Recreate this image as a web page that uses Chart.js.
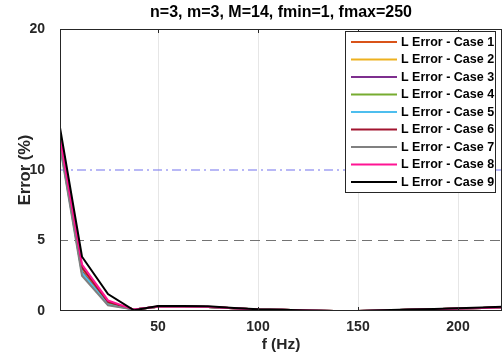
<!DOCTYPE html>
<html>
<head>
<meta charset="utf-8">
<script src="https://cdn.jsdelivr.net/npm/chart.js@4/dist/chart.umd.min.js"></script>
<style>
  html, body { margin: 0; padding: 0; background: #fff; }
  #wrap { width: 503px; height: 360px; }
</style>
</head>
<body>
<div id="wrap"><canvas id="chart" width="503" height="360"></canvas></div>
<script>
const freqs = [1, 12, 25, 38, 50, 62, 75, 88, 100, 112, 125, 138, 150, 162, 175, 188, 200, 212, 222];

const caseLabels = [
  "L Error - Case 1", "L Error - Case 2", "L Error - Case 3",
  "L Error - Case 4", "L Error - Case 5", "L Error - Case 6",
  "L Error - Case 7", "L Error - Case 8", "L Error - Case 9",
];
const caseColors = [
  "#D95319", "#EDB120", "#7E2F8E", "#77AC30", "#4DBEEE",
  "#A2142F", "#808080", "#FF1493", "#000000",
];

const case1 = [12.1, 3.0, 0.6, 0.1, 0.3, 0.3, 0.28, 0.2, 0.1, 0.08, 0.03, 0.0, 0.0, 0.04, 0.08, 0.12, 0.18, 0.22, 0.26];
const case2 = [12.0, 2.9, 0.55, 0.1, 0.3, 0.3, 0.28, 0.2, 0.1, 0.08, 0.03, 0.0, 0.0, 0.04, 0.08, 0.12, 0.18, 0.22, 0.26];
const case3 = [12.0, 2.8, 0.5, 0.1, 0.3, 0.3, 0.28, 0.2, 0.1, 0.08, 0.03, 0.0, 0.0, 0.04, 0.08, 0.12, 0.18, 0.22, 0.26];
const case4 = [11.9, 2.7, 0.5, 0.1, 0.3, 0.3, 0.28, 0.2, 0.1, 0.08, 0.03, 0.0, 0.0, 0.04, 0.08, 0.12, 0.18, 0.22, 0.26];
const case5 = [11.8, 2.7, 0.45, 0.1, 0.3, 0.3, 0.28, 0.2, 0.1, 0.08, 0.03, 0.0, 0.0, 0.04, 0.08, 0.12, 0.18, 0.22, 0.26];
const case6 = [12.2, 3.1, 0.65, 0.1, 0.3, 0.3, 0.28, 0.2, 0.1, 0.08, 0.03, 0.0, 0.0, 0.04, 0.08, 0.12, 0.18, 0.22, 0.26];
const case7 = [11.7, 2.5, 0.4, 0.1, 0.3, 0.3, 0.28, 0.2, 0.1, 0.08, 0.03, 0.0, 0.0, 0.04, 0.08, 0.12, 0.18, 0.22, 0.26];
const case8 = [12.3, 3.3, 0.75, 0.1, 0.32, 0.32, 0.3, 0.2, 0.1, 0.08, 0.03, 0.0, 0.0, 0.04, 0.08, 0.12, 0.18, 0.22, 0.26];
const case9 = [13.0, 3.85, 1.2, 0.05, 0.35, 0.35, 0.33, 0.22, 0.12, 0.08, 0.03, 0.0, 0.0, 0.05, 0.1, 0.14, 0.2, 0.25, 0.3];
const caseValues = [case1, case2, case3, case4, case5, case6, case7, case8, case9];

const yTickValues = [0, 5, 10, 20];
const xTickValues = [50, 100, 150, 200];
const refLevels = [5, 10];

const titleText = "n=3, m=3, M=14, fmin=1, fmax=250";
const FONT = "'Liberation Sans', Arial, Helvetica, sans-serif";

// later cases are drawn on top, like in the original plot
const datasets = caseValues.map((vals, i) => ({
  label: caseLabels[i],
  data: freqs.map((f, j) => ({ x: f, y: vals[j] })),
  borderColor: caseColors[i],
  backgroundColor: caseColors[i],
  borderWidth: 2,
  pointRadius: 0,
  tension: 0,
  order: caseValues.length - i,
}));

// reference lines at 5 % and 10 %
datasets.push({
  label: "ref5",
  data: [{ x: 0, y: refLevels[0] }, { x: 250, y: refLevels[0] }],
  borderColor: "#737373",
  borderWidth: 1.2,
  borderDash: [10, 6],
  pointRadius: 0,
  order: 50,
});
datasets.push({
  label: "ref10",
  data: [{ x: 0, y: refLevels[1] }, { x: 250, y: refLevels[1] }],
  borderColor: "#7373EE",
  borderWidth: 1.2,
  borderDash: [9, 4, 2, 4],
  pointRadius: 0,
  order: 50,
});

const boxAndLegend = {
  id: "boxAndLegend",
  afterDraw(chart) {
    const { ctx, chartArea: a } = chart;
    ctx.save();
    // axes box
    ctx.strokeStyle = "#262626";
    ctx.lineWidth = 1;
    ctx.strokeRect(a.left + 0.5, a.top + 0.5, a.right - a.left - 1, a.bottom - a.top - 1);
    // small inward ticks on top and bottom edges
    const xs = chart.scales.x;
    xTickValues.forEach((v) => {
      const px = Math.round(xs.getPixelForValue(v)) + 0.5;
      ctx.beginPath();
      ctx.moveTo(px, a.top);
      ctx.lineTo(px, a.top + 4);
      ctx.moveTo(px, a.bottom);
      ctx.lineTo(px, a.bottom - 4);
      ctx.stroke();
    });

    // title
    ctx.fillStyle = "#000";
    ctx.font = "bold 16px " + FONT;
    ctx.textAlign = "center";
    ctx.textBaseline = "middle";
    ctx.fillText(titleText, (a.left + a.right) / 2, 13);

    // legend
    const lx = 345.5, ly = 31.5, lw = 150, lh = 161;
    ctx.fillStyle = "#fff";
    ctx.fillRect(lx, ly, lw, lh);
    ctx.strokeStyle = "#262626";
    ctx.lineWidth = 1;
    ctx.strokeRect(lx, ly, lw, lh);
    ctx.font = "bold 12.5px " + FONT;
    ctx.textAlign = "left";
    caseLabels.forEach((lab, i) => {
      const y = 42 + i * 17.5;
      ctx.strokeStyle = caseColors[i];
      ctx.lineWidth = 2;
      ctx.beginPath();
      ctx.moveTo(351, y);
      ctx.lineTo(397, y);
      ctx.stroke();
      ctx.fillStyle = "#000";
      ctx.fillText(lab, 401, y + 0.5);
    });
    ctx.restore();
  },
};

new Chart(document.getElementById("chart"), {
  type: "line",
  data: { datasets },
  options: {
    responsive: false,
    animation: false,
    layout: { padding: { left: 0, right: 1, top: 29, bottom: 0 } },
    plugins: {
      legend: { display: false },
      title: { display: false },
      tooltip: { enabled: false },
    },
    scales: {
      x: {
        type: "linear",
        min: 1,
        max: 222,
        afterBuildTicks(scale) {
          scale.ticks = xTickValues.map((v) => ({ value: v }));
        },
        afterFit(scale) {
          scale.height = 49;
        },
        grid: { color: "#e6e6e6", drawTicks: false },
        border: { display: false },
        ticks: {
          padding: 8,
          color: "#262626",
          font: { family: FONT, size: 14, weight: "bold" },
        },
        title: {
          display: true,
          text: "f (Hz)",
          color: "#262626",
          font: { family: FONT, size: 15.5, weight: "bold" },
          padding: { top: 0, bottom: 6 },
        },
      },
      y: {
        type: "linear",
        min: 0,
        max: 20,
        afterBuildTicks(scale) {
          scale.ticks = yTickValues.map((v) => ({ value: v }));
        },
        afterFit(scale) {
          scale.width = 60;
        },
        grid: { display: false },
        border: { display: false },
        ticks: {
          padding: 7,
          color: "#262626",
          font: { family: FONT, size: 14, weight: "bold" },
        },
        title: {
          display: true,
          text: "Error (%)",
          color: "#262626",
          font: { family: FONT, size: 16.5, weight: "bold" },
          padding: { top: 16, bottom: 0 },
        },
      },
    },
  },
  plugins: [boxAndLegend],
});
</script>
</body>
</html>
